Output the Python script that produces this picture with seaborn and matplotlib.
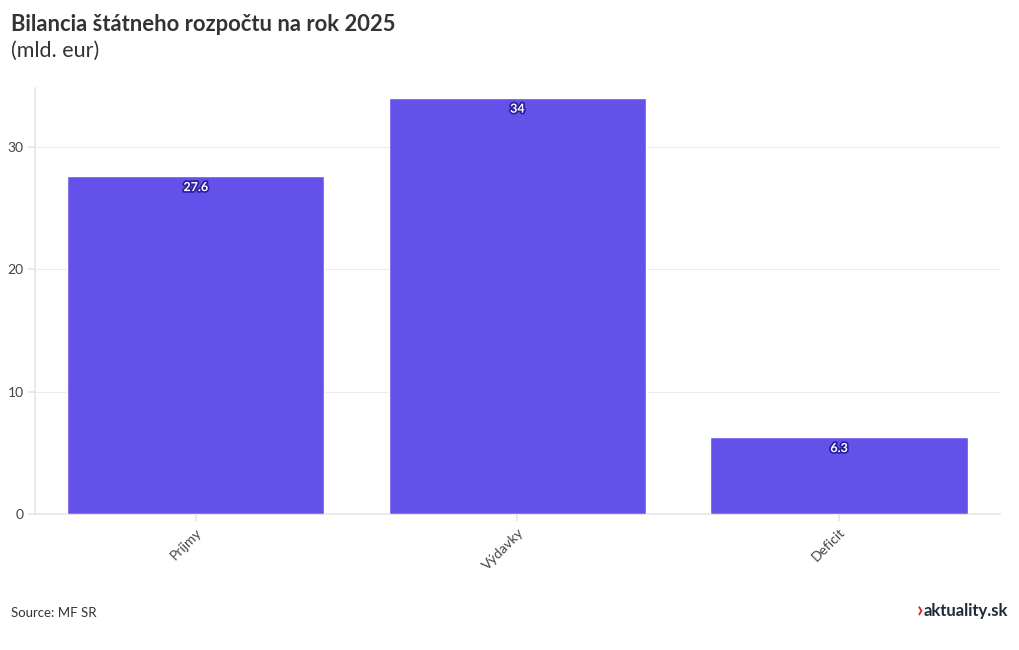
import matplotlib
matplotlib.use("Agg")
import matplotlib.pyplot as plt
import matplotlib.patheffects as pe
import seaborn as sns
import pandas as pd

categories = ["Príjmy", "Výdavky", "Deficit"]
values = [27.6, 34, 6.3]
value_labels = ["27.6", "34", "6.3"]
y_ticks = [0, 10, 20, 30]

sns.set_theme(style="white")
plt.rcParams['font.family'] = ['Lato', 'DejaVu Sans']

df = pd.DataFrame({"cat": categories, "val": values})

fig = plt.figure(figsize=(10.2, 6.5), dpi=100)
ax = fig.add_axes([0.0343, 0.209, 0.946, 0.656])
sns.barplot(data=df, x="cat", y="val", color="#6351ea", saturation=1, width=0.8, ax=ax, zorder=3)

ax.set_xlim(-0.5, 2.5)
ax.set_ylim(0, 34.8)
ax.set_yticks(y_ticks)
ax.set_yticklabels([str(t) for t in y_ticks], fontsize=10, color="#444444")
ax.grid(axis="y", color="#ebebeb", linewidth=0.8, zorder=0)
ax.set_xlabel("")
ax.set_ylabel("")
for s in ["top", "right"]:
    ax.spines[s].set_visible(False)
ax.spines["left"].set_color("#e6e6e6")
ax.spines["bottom"].set_color("#e6e6e6")
ax.tick_params(axis="y", length=5, color="#e6e6e6", pad=3, left=True)
ax.tick_params(axis="x", length=5, color="#e6e6e6", bottom=True)
plt.setp(ax.get_xticklabels(), rotation=45, ha="right", rotation_mode="anchor", fontsize=10, color="#444444")

for i, (v, lab) in enumerate(zip(values, value_labels)):
    ax.annotate(lab, xy=(i, v), xytext=(0, -8), textcoords="offset points",
                ha="center", va="center", fontsize=9, fontweight="bold", color="white",
                path_effects=[pe.withStroke(linewidth=2.5, foreground="#2a1fa0")], zorder=5)

fig.text(0.011, 0.962, "Bilancia štátneho rozpočtu na rok 2025", fontsize=15.8, fontweight="bold",
         color="#333333", ha="left", va="center")
fig.text(0.011, 0.922, "(mld. eur)", fontsize=15.5, color="#333333", ha="left", va="center")
fig.text(0.011, 0.057, "Source: MF SR", fontsize=9.5, color="#333333", ha="left", va="center")
fig.text(0.988, 0.06, "aktuality.sk", fontsize=12, fontweight="bold", color="#1e2a3a", ha="right", va="center")
fig.text(0.905, 0.06, "›", fontsize=16, fontweight="bold", color="#e0282e", ha="right", va="center")

fig.savefig("out.png", dpi=100)
